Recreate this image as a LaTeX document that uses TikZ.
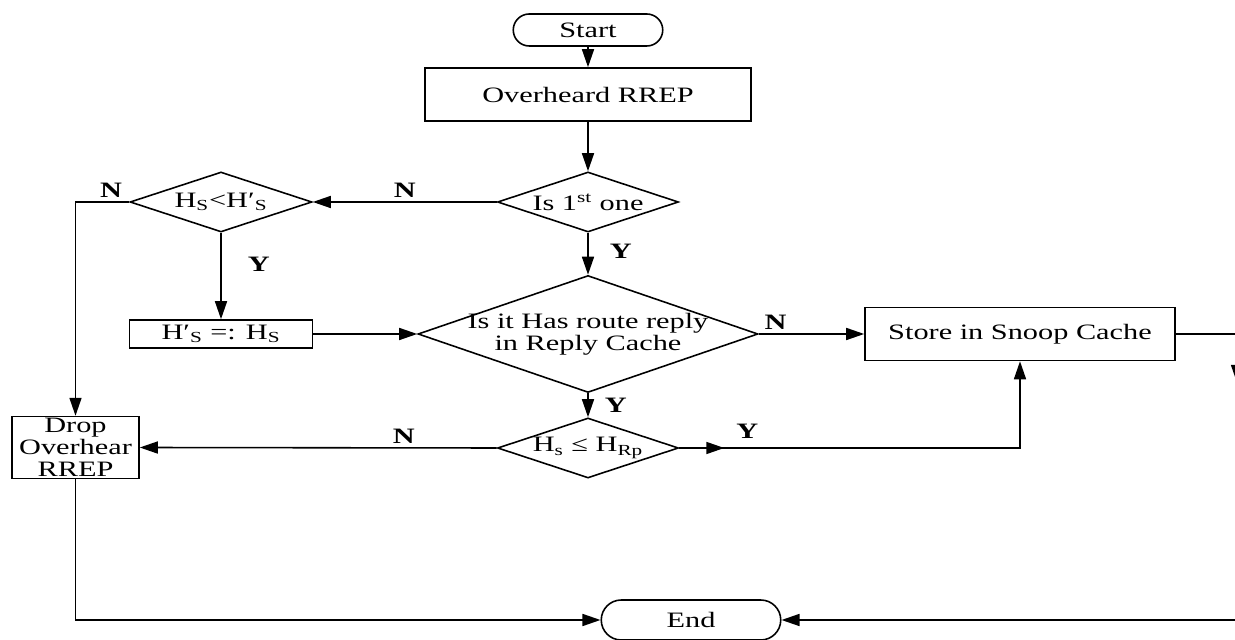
\documentclass[tikz,border=0pt]{standalone}
\usepackage{fontspec}
\setmainfont{Liberation Serif}[FakeStretch=1.38]
\usetikzlibrary{shapes.geometric,shapes.misc,arrows.meta,decorations.markings}

\begin{document}
\begin{tikzpicture}[line width=0.9pt,
	every node/.style={font=\fontsize{12.5pt}{12.5pt}\selectfont},
	proc/.style={draw, inner sep=1pt, align=center},
	term/.style={draw, rounded rectangle, inner sep=1pt},
	dec/.style={draw, diamond, aspect=3, inner sep=0pt, align=center},
	lab/.style={font=\fontsize{12.5pt}{12.5pt}\selectfont\bfseries, inner sep=2pt},
	arr/.style={-{Triangle[length=3.6mm,width=2.4mm]}},
	midarr/.style={postaction={decorate}, decoration={markings, mark=at position #1 with {\arrow{Triangle[length=3.6mm,width=2.4mm]}}}}]
	\useasboundingbox (0,0) rectangle (24.7,-12.8);
	
	\node[term, minimum width=3.06cm, minimum height=0.64cm] (ST) at (11.76,-0.6) {Start};
	\node[proc, minimum width=6.52cm, minimum height=1.06cm] (OR) at (11.76,-1.89) {Overheard RREP};
	\node[dec, minimum width=3.62cm, minimum height=1.2cm] (F1) at (11.76,-4.04) {Is 1\textsuperscript{st} one};
	\node[dec, minimum width=3.64cm, minimum height=1.2cm] (HC) at (4.42,-4.04) {H\textsubscript{S}<H′\textsubscript{S}};
	\node[proc, minimum width=3.66cm, minimum height=0.56cm] (HB) at (4.42,-6.68) {H′\textsubscript{S} =: H\textsubscript{S}};
	\node[dec, minimum width=6.8cm, minimum height=2.34cm, inner ysep=-5pt] (RC) at (11.76,-6.68) {Is it Has route reply\\in Reply Cache};
	\node[proc, minimum width=6.2cm, minimum height=1.06cm] (SC) at (20.4,-6.68) {Store in Snoop Cache};
	\node[dec, minimum width=3.62cm, minimum height=1.2cm] (HR) at (11.76,-8.96) {H\textsubscript{s} ≤ H\textsubscript{Rp}};
	\node[proc, minimum width=2.54cm, minimum height=1.18cm] (DR) at (1.51,-8.95) {Drop\\Overhear\\RREP};
	\node[term, minimum width=3.66cm, minimum height=0.8cm] (EN) at (13.82,-12.4) {End};
	\coordinate (RE) at (24.74,-6.68);
	
	\draw[arr] (ST) -- (OR);
	\draw[arr] (OR) -- (F1);
	\draw[arr] (F1.west) -- node[lab, above] {N} (HC.east);
	\draw[arr] (HC.west) -| node[lab, above, pos=.17] {N} (DR.north);
	\draw[arr] (HC.south) -- node[lab, right=0.45cm, pos=.36] {Y} (HB.north);
	\draw[arr] (HB.east) -- (RC.west);
	\draw[arr] (F1.south) -- node[lab, right=0.35cm, pos=.45] {Y} (RC.north);
	\draw[arr] (RC.east) -- node[lab, above, pos=.16] {N} (SC.west);
	\draw[arr] (RC.south) -- node[lab, right=0.25cm] {Y} (HR.north);
	\draw[arr] (HR.west) -- node[lab, above, pos=.26] {N} (DR.east);
	\draw[arr, midarr=0.9cm] (HR.east) -| node[lab, above=3pt, pos=.1] {Y} (SC.south);
	\draw[arr] (DR.south) |- (EN.west);
	
	\draw[arr, midarr=2.2cm] (SC.east) -- (RE) |- (EN.east);
	
\end{tikzpicture}
\end{document}
